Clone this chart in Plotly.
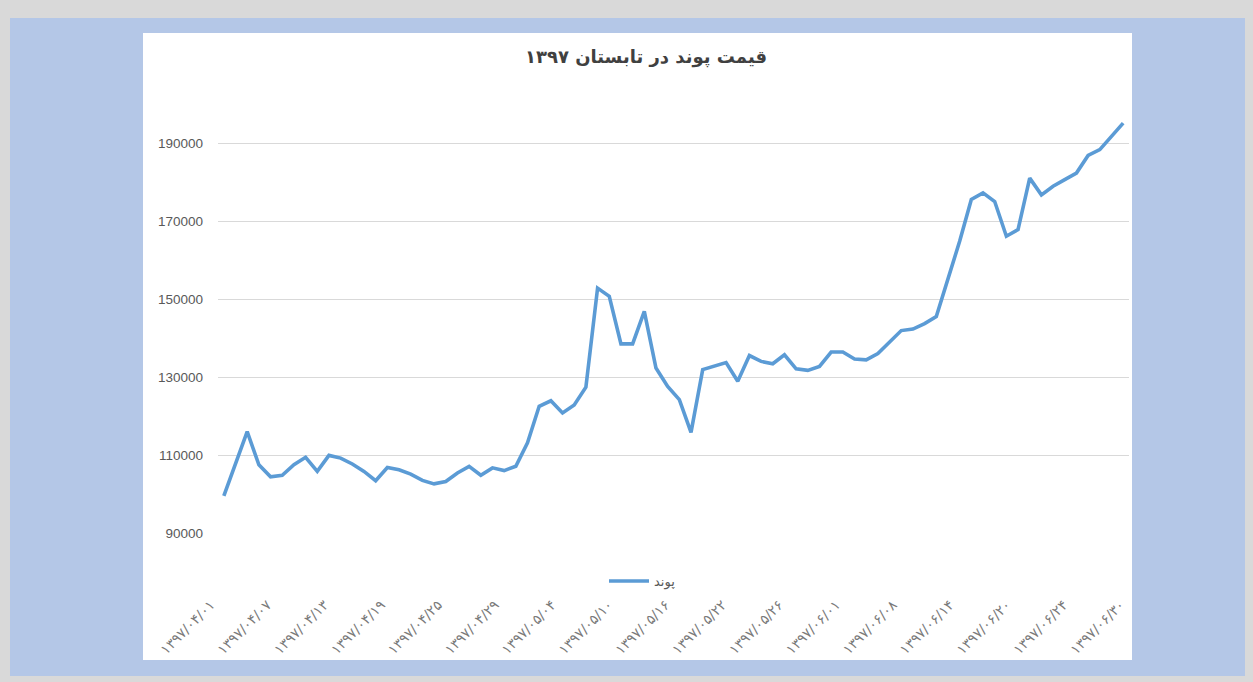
import plotly.graph_objects as go

# ---- data ----
title_text = "قیمت پوند در تابستان ۱۳۹۷"
series_name = "پوند"
tick_labels = [
    "۱۳۹۷/۰۴/۰۱", "۱۳۹۷/۰۴/۰۷", "۱۳۹۷/۰۴/۱۳", "۱۳۹۷/۰۴/۱۹", "۱۳۹۷/۰۴/۲۵",
    "۱۳۹۷/۰۴/۲۹", "۱۳۹۷/۰۵/۰۴", "۱۳۹۷/۰۵/۱۰", "۱۳۹۷/۰۵/۱۶", "۱۳۹۷/۰۵/۲۲",
    "۱۳۹۷/۰۵/۲۶", "۱۳۹۷/۰۶/۰۱", "۱۳۹۷/۰۶/۰۸", "۱۳۹۷/۰۶/۱۴", "۱۳۹۷/۰۶/۲۰",
    "۱۳۹۷/۰۶/۲۴", "۱۳۹۷/۰۶/۳۰",
]
pound_price = [
    99500, 107600, 116000, 107500, 104400, 104800, 107500, 109400, 105800, 109900,
    109200, 107700, 105800, 103400, 106800, 106200, 105100, 103500, 102600, 103200,
    105400, 107100, 104800, 106700, 106000, 107100, 113100, 122500, 123900, 120800,
    122800, 127400, 152800, 150700, 138500, 138500, 146800, 132300, 127600, 124200,
    115800, 131900, 132700, 133700, 128900, 135500, 134000, 133400, 135700, 132100,
    131700, 132700, 136400, 136400, 134600, 134400, 136000, 139100, 141900, 142300,
    143700, 145500, 155300, 164800, 175500, 177200, 175000, 166100, 167800, 181000,
    176700, 178900, 180600, 182300, 186800, 188300, 191700, 195100,
]
y_ticks = [90000, 110000, 130000, 150000, 170000, 190000]

# ---- layout geometry (page pixels; the page body has an 8px margin) ----
OFF = 8
W, H = 1253, 682
L, R, T, B = 218 - OFF, 124 + OFF, 104 - OFF, 149 + OFF
pw, ph = W - L - R, H - T - B

def px_x(p):
    return (p - OFF - L) / pw

def px_y(p):
    return 1 - (p - OFF - T) / ph

n = len(pound_price)
x_idx = list(range(n))
n_lab = len(tick_labels)
tick_pos = [-0.45 + k * (n - 1 + 0.9) / (n_lab - 1) for k in range(n_lab)]

fig = go.Figure()
fig.add_trace(go.Scatter(
    x=x_idx, y=pound_price, mode="lines", name=series_name,
    line=dict(color="#5b9bd5", width=3.6),
))

shapes = [
    dict(type="rect", xref="paper", yref="paper", layer="below",
         x0=px_x(10), x1=px_x(1245), y0=px_y(676), y1=px_y(18),
         fillcolor="#b4c7e7", line=dict(width=0)),
    dict(type="rect", xref="paper", yref="paper", layer="below",
         x0=px_x(143), x1=px_x(1132), y0=px_y(660), y1=px_y(33),
         fillcolor="#ffffff", line=dict(width=0)),
]

fig.update_layout(
    width=W, height=H,
    margin=dict(l=L, r=R, t=T, b=B, pad=0),
    paper_bgcolor="#d9d9d9",
    plot_bgcolor="rgba(0,0,0,0)",
    shapes=shapes,
    title=dict(text="<b>" + title_text + "</b>", x=(646 - OFF) / W,
               xref="container", xanchor="center",
               y=1 - (57 - OFF) / H, yref="container", yanchor="middle",
               font=dict(family="DejaVu Sans", size=18, color="#404040")),
    showlegend=True,
    legend=dict(orientation="h", x=px_x(604), y=px_y(581), xref="paper", yref="paper",
                xanchor="left", yanchor="middle", bgcolor="rgba(0,0,0,0)",
                font=dict(family="DejaVu Sans", size=13, color="#595959"),
                itemwidth=40),
    xaxis=dict(range=[-0.5, n - 0.5], tickmode="array", tickvals=tick_pos,
               ticktext=tick_labels, tickangle=-45, showgrid=False, zeroline=False,
               showline=False, ticks="", ticklabelstandoff=60, ticklabelshift=-8,
               tickfont=dict(family="DejaVu Sans", size=14, color="#7a7a7a")),
    yaxis=dict(range=[90000, 200000], tickmode="array", tickvals=y_ticks,
               ticktext=[str(v) for v in y_ticks], showgrid=True,
               gridcolor="#d9d9d9", gridwidth=1, zeroline=False, showline=False,
               ticks="", ticklabelstandoff=14,
               tickfont=dict(family="Liberation Sans", size=13.5, color="#595959")),
)

fig.write_html("out.html", config={"displayModeBar": False},
               post_script="document.body.style.background='#d9d9d9';")
